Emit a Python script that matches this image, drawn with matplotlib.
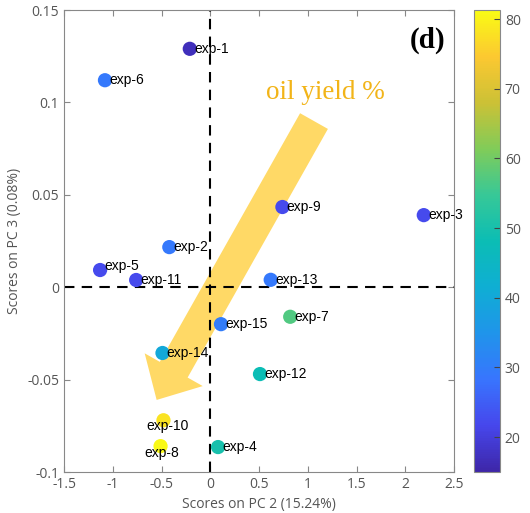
import matplotlib
matplotlib.use("Agg")
import matplotlib.pyplot as plt
from matplotlib.colors import LinearSegmentedColormap

# PCA scores (PC2 vs PC3) and oil yield for each experiment
names = ["exp-1", "exp-2", "exp-3", "exp-4", "exp-5", "exp-6", "exp-7", "exp-8",
         "exp-9", "exp-10", "exp-11", "exp-12", "exp-13", "exp-14", "exp-15"]
pc2 = [-0.21, -0.42, 2.19, 0.08, -1.13, -1.08, 0.82, -0.51,
       0.74, -0.48, -0.76, 0.51, 0.62, -0.49, 0.11]
pc3 = [0.129, 0.0217, 0.039, -0.0865, 0.0093, 0.112, -0.016, -0.086,
       0.0434, -0.072, 0.0039, -0.047, 0.004, -0.0356, -0.020]
oil_yield = [17, 29, 22, 50, 22, 29, 57, 81,
             22, 78, 22, 48, 29, 40, 30]

# parula-like colormap
parula_rgb = [(0.2422, 0.1504, 0.6603), (0.2760, 0.2780, 0.9270),
              (0.2196, 0.4588, 0.9965), (0.1231, 0.5813, 0.9185),
              (0.0591, 0.6834, 0.8293), (0.0433, 0.7411, 0.7069),
              (0.2161, 0.7843, 0.5923), (0.5044, 0.7993, 0.3480),
              (0.7981, 0.7570, 0.2105), (0.9871, 0.7845, 0.1920),
              (0.9769, 0.9839, 0.0805)]
parula = LinearSegmentedColormap.from_list("parula", parula_rgb)

# labels that are not placed to the right of the marker
label_offsets = {"exp-10": (3, -4), "exp-8": (1, -5), "exp-5": (3, 3)}

fig = plt.figure(figsize=(5.30, 5.13), dpi=100)
ax = fig.add_axes([0.1208, 0.0799, 0.7358, 0.9006])
cax = fig.add_axes([0.8943, 0.0799, 0.049, 0.9006])

ax.set_xlim(-1.5, 2.5)
ax.set_ylim(-0.1, 0.15)

# big arrow showing direction of increasing oil yield
ax.annotate("", xy=(-0.55, -0.061), xytext=(1.064, 0.0899),
            arrowprops=dict(arrowstyle="simple,head_length=25,head_width=48,tail_width=23",
                            mutation_scale=1, color="#ffd966", shrinkA=0, shrinkB=0,
                            lw=0), zorder=1)

ax.axvline(0, color="black", ls=(0, (5, 3.5)), lw=1.5, zorder=2)
ax.axhline(0, color="black", ls=(0, (5, 3.5)), lw=1.5, zorder=2)

sc = ax.scatter(pc2, pc3, c=oil_yield, cmap=parula, vmin=15, vmax=81.3,
                s=105, edgecolors="none", zorder=3)

for name, x, y in zip(names, pc2, pc3):
    if name in ("exp-10", "exp-8"):
        ax.annotate(name, (x, y), xytext=label_offsets[name], textcoords="offset points",
                    ha="center", va="center", fontsize=10, family="Liberation Sans", zorder=4)
    else:
        off = label_offsets.get(name, (3, 0))
        ax.annotate(name, (x, y), xytext=off, textcoords="offset points",
                    ha="left", va="center", fontsize=10, family="Liberation Sans", zorder=4)

ax.text(1.18, 0.1055, "oil yield %", color="#f2b418", fontsize=19.5,
        family="Liberation Serif", ha="center", va="center")
ax.text(2.23, 0.1335, "(d)", fontsize=21, fontweight="bold",
        family="Liberation Serif", ha="center", va="center")

ax.set_xticks([-1.5, -1, -0.5, 0, 0.5, 1, 1.5, 2, 2.5])
ax.set_xticklabels(["-1.5", "-1", "-0.5", "0", "0.5", "1", "1.5", "2", "2.5"])
ax.set_yticks([-0.1, -0.05, 0, 0.05, 0.1, 0.15])
ax.set_yticklabels(["-0.1", "-0.05", "0", "0.05", "0.1", "0.15"])
ax.tick_params(direction="in", top=True, right=True, labelsize=10,
               labelcolor="#555555", color="#888888", length=4)
for sp in ax.spines.values():
    sp.set_color("#888888")
ax.set_xlabel("Scores on PC 2 (15.24%)", fontsize=10, color="#555555", family="Open Sans")
ax.set_ylabel("Scores on PC 3 (0.08%)", fontsize=10, color="#555555", family="Open Sans")
for lab in ax.get_xticklabels() + ax.get_yticklabels():
    lab.set_family("Open Sans")

cb = fig.colorbar(sc, cax=cax)
cb.set_ticks([20, 30, 40, 50, 60, 70, 80])
cb.ax.tick_params(direction="in", labelsize=10, labelcolor="#555555",
                  color="#444444", length=4)
cb.outline.set_edgecolor("#888888")
for lab in cb.ax.get_yticklabels():
    lab.set_family("Open Sans")

fig.savefig("out.png", dpi=100)
